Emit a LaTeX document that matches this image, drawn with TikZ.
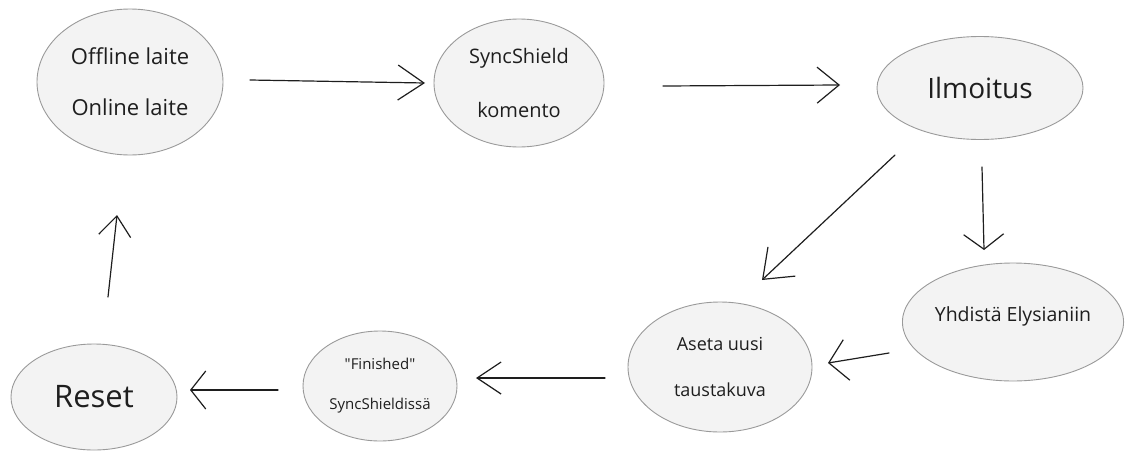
\documentclass[tikz,border=0pt]{standalone}
\usepackage{fontspec}
\setmainfont{Open Sans}[Ligatures=TeXOff]
\usetikzlibrary{arrows.meta,shapes.geometric}
\definecolor{ellfill}{HTML}{F3F3F3}
\definecolor{elldraw}{HTML}{9A9A9A}
\definecolor{ink}{HTML}{1E1E1E}
\tikzset{
  stnode/.style={ellipse, draw=elldraw, fill=ellfill, line width=0.9pt, inner sep=0pt, align=center, text=ink},
  flow/.style={draw=ink, line width=1.2pt, line cap=round}
}
\begin{document}
\begin{tikzpicture}[x=1pt,y=-1pt]
\useasboundingbox (0,0) rectangle (1126,450);
\node[stnode, minimum width=186pt, minimum height=146pt, font=\fontsize{22}{51}\selectfont] (off) at (130,82) {Offline laite\\Online laite};
\node[stnode, minimum width=170pt, minimum height=128pt, font=\fontsize{20}{54}\selectfont] (sync) at (519,83) {SyncShield\\komento};
\node[stnode, minimum width=206pt, minimum height=103pt, font=\fontsize{28}{30}\selectfont] (ilm) at (980,88) {Ilmoitus};
\node[stnode, minimum width=220pt, minimum height=118pt, font=\fontsize{19.5}{22}\selectfont] (yhd) at (1013,322) {Yhdistä Elysianiin\\[-12pt]\strut};
\node[stnode, minimum width=184pt, minimum height=130pt, font=\fontsize{18}{46}\selectfont] (aseta) at (720,367) {Aseta uusi\\taustakuva};
\node[stnode, minimum width=154pt, minimum height=110pt, font=\fontsize{15}{40}\selectfont] (fin) at (380,386) {"Finished"\\SyncShieldissä};
\node[stnode, minimum width=166pt, minimum height=106pt, font=\fontsize{31}{34}\selectfont] (reset) at (94,397) {Reset};
\draw[flow, -{Straight Barb[length=26pt,width=35pt]}] ([shift={(120,-2)}]off.center) -- ([shift={(-94,0)}]sync.center);
\draw[flow, -{Straight Barb[length=22pt,width=36pt]}] ([shift={(144,3)}]sync.center) -- ([shift={(-140,-3)}]ilm.center);
\draw[flow, -{Straight Barb[length=26pt,width=40pt]}] ([shift={(-85,67)}]ilm.center) -- ([shift={(42,-87)}]aseta.center);
\draw[flow, -{Straight Barb[length=15pt,width=40pt]}] ([shift={(2,79)}]ilm.center) -- ([shift={(-29,-72)}]yhd.center);
\draw[flow, -{Straight Barb[length=18pt,width=41pt]}] ([shift={(-124,31)}]yhd.center) -- ([shift={(108,-4)}]aseta.center);
\draw[flow, -{Straight Barb[length=24pt,width=32pt]}] ([shift={(-115,11)}]aseta.center) -- ([shift={(96,-8)}]fin.center);
\draw[flow, -{Straight Barb[length=15pt,width=38pt]}] ([shift={(-102,4)}]fin.center) -- ([shift={(96,-7)}]reset.center);
\draw[flow, -{Straight Barb[length=20pt,width=32pt]}] ([shift={(14,-100)}]reset.center) -- ([shift={(-13,133)}]off.center);
\end{tikzpicture}
\end{document}
